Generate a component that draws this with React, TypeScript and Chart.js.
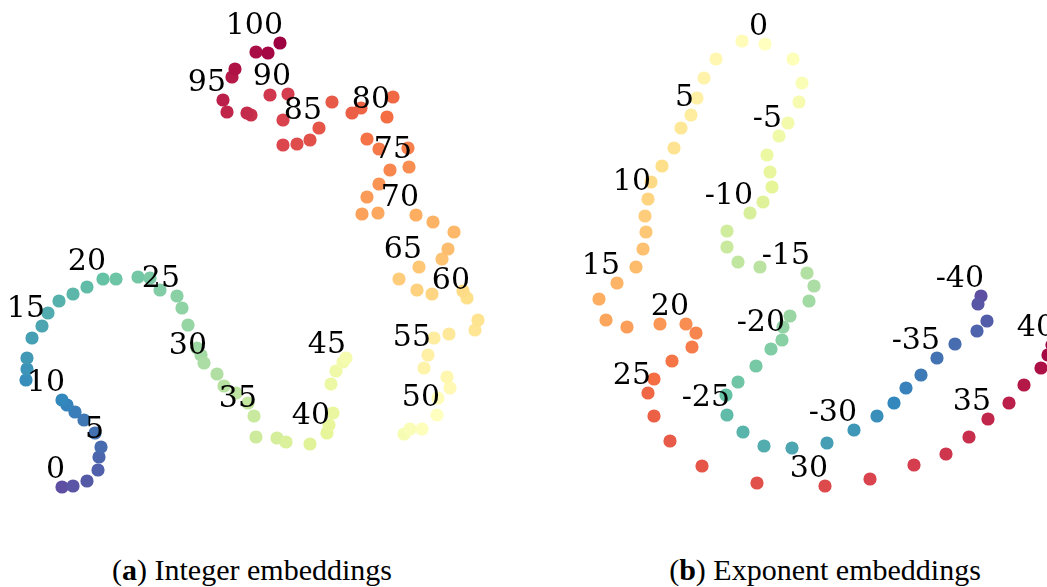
import React, { useEffect, useRef } from "react";
import { Chart, registerables } from "chart.js";

Chart.register(...registerables);

// ---------- Data: (a) Integer embeddings, values 0..100 ----------
const intValues: number[] = Array.from({ length: 101 }, (_, i) => i);
const intX: number[] = [
  -20.0, -18.9, -17.5, -16.4, -16.3, -16.1, -16.7, -17.8, -18.7, -19.5,
  -20.0, -23.6, -23.5, -23.5, -23.0, -22.0, -21.4, -20.3, -18.9, -17.5,
  -15.9, -14.6, -12.4, -11.2, -10.2, -8.5, -8.0, -7.4, -6.5, -6.1,
  -5.8, -4.5, -3.8, -2.6, -1.4, -0.8, -0.6, 1.5, 2.4, 4.8,
  6.5, 6.7, 7.1, 6.9, 7.4, 8.1, 8.4, 14.2, 14.8, 16.0,
  17.5, 17.6, 18.8, 18.5, 16.2, 16.6, 17.2, 18.7, 21.3, 21.6,
  20.5, 20.1, 17.0, 15.5, 13.7, 15.7, 18.0, 18.6, 19.2, 17.1,
  15.4, 11.6, 10.0, 10.5, 11.7, 14.7, 12.8, 14.6, 11.7, 10.5,
  12.5, 13.1, 9.9, 9.0, 7.0, 5.7, 4.8, 3.5, 2.1, 2.1,
  2.6, 0.8, -1.1, -1.5, -3.5, -3.9, -3.0, -2.7, -0.6, 0.6,
  1.8,
];
const intY: number[] = [
  -21.7, -21.6, -21.1, -20.0, -18.7, -17.7, -16.3, -15.0, -14.2, -13.5,
  -13.0, -11.0, -9.9, -8.8, -6.8, -5.6, -4.3, -3.1, -2.4, -1.7,
  -0.9, -0.9, -0.7, -0.8, -2.0, -2.6, -3.8, -5.5, -7.8, -8.5,
  -9.3, -10.4, -11.6, -12.3, -13.3, -14.6, -16.7, -16.8, -17.2, -17.4,
  -16.3, -15.5, -14.3, -11.4, -10.1, -9.2, -8.8, -16.4, -15.9, -15.9,
  -14.5, -12.8, -11.8, -10.7, -9.8, -8.5, -6.8, -6.4, -6.0, -5.0,
  -2.8, -2.1, -2.4, -2.0, -0.9, 0.3, 1.1, 2.1, 3.8, 4.8,
  5.5, 5.7, 5.6, 7.3, 8.6, 10.3, 10.0, 12.2, 12.1, 13.1,
  15.3, 17.3, 16.2, 15.7, 16.8, 14.2, 13.0, 12.6, 12.5, 15.0,
  17.6, 17.5, 15.5, 15.7, 15.8, 17.0, 19.3, 20.1, 21.8, 21.7,
  22.7,
];

// ---------- Data: (b) Exponent embeddings, values -40..40 ----------
const expValues: number[] = Array.from({ length: 81 }, (_, i) => i - 40);
const expX: number[] = [
  19.6, 19.3, 20.2, 19.2, 17.0, 15.2, 13.6, 12.1, 10.9, 9.2,
  6.9, 4.2, 0.7, -2.1, -4.2, -5.8, -5.9, -4.7, -2.9, -1.4,
  -0.3, -0.2, 0.5, 2.4, 2.9, 2.2, -2.5, -4.7, -5.8, -5.8,
  -3.5, -2.2, -1.3, -1.5, -1.8, -0.6, 0.3, 1.4, 1.7, 0.8,
  -2.0,
  -4.3, -6.9, -8.1, -8.8, -9.4, -10.4, -11.1, -12.3, -13.4, -13.7,
  -14.0, -13.9, -14.2, -14.9, -16.8, -18.6, -17.9, -15.8, -12.5, -9.9,
  -8.9, -9.3, -11.3, -13.1, -13.7, -13.1, -11.5, -8.3, -2.8, 4.0,
  8.5, 12.9, 16.1, 18.4, 20.3, 22.4, 23.9, 25.6, 26.3, 26.7,
];
const expY: number[] = [
  -2.6, -3.4, -5.1, -6.1, -7.4, -8.8, -10.5, -11.8, -13.3, -14.6,
  -16.0, -17.3, -17.8, -17.6, -16.2, -14.5, -12.5, -11.2, -9.6, -7.9,
  -7.0, -5.7, -4.6, -3.1, -1.6, -0.3, 0.3, 0.8, 2.3, 3.9,
  5.7, 6.8, 8.3, 9.8, 11.5, 13.4, 14.7, 16.8, 18.7, 21.1,
  22.6,
  22.9, 21.1, 19.2, 17.2, 15.5, 14.2, 12.2, 10.4, 8.8, 7.1,
  5.4, 3.8, 2.1, 0.3, -1.3, -2.9, -5.0, -5.7, -5.4, -5.4,
  -6.3, -7.7, -9.1, -10.9, -12.3, -14.6, -17.1, -19.6, -21.3, -21.6,
  -20.9, -19.5, -18.4, -16.7, -14.9, -13.3, -11.5, -9.8, -8.5, -7.5,
];

const captionA = "Integer embeddings";
const captionB = "Exponent embeddings";

// ---------- Spectral colormap ----------
const SPECTRAL = [
  "#9e0142", "#d53e4f", "#f46d43", "#fdae61", "#fee08b", "#ffffbf",
  "#e6f598", "#abdda4", "#66c2a5", "#3288bd", "#5e4fa2",
];
function hexToRgb(h: string): number[] {
  return [parseInt(h.slice(1, 3), 16), parseInt(h.slice(3, 5), 16), parseInt(h.slice(5, 7), 16)];
}
function spectral(t: number): string {
  const tt = Math.max(0, Math.min(1, t));
  const p = tt * (SPECTRAL.length - 1);
  const i = Math.min(SPECTRAL.length - 2, Math.floor(p));
  const f = p - i;
  const a = hexToRgb(SPECTRAL[i]);
  const b = hexToRgb(SPECTRAL[i + 1]);
  const c = a.map((v, k) => Math.round(v + (b[k] - v) * f));
  return `rgb(${c[0]},${c[1]},${c[2]})`;
}

const labelPlugin = {
  id: "pointLabels",
  afterDatasetsDraw(chart: any, _args: any, opts: any) {
    const meta = chart.getDatasetMeta(0);
    const ctx = chart.ctx;
    ctx.save();
    ctx.font = '30px "DejaVu Serif"';
    ctx.fillStyle = "#000";
    ctx.textAlign = "right";
    ctx.textBaseline = "alphabetic";
    (opts.values as number[]).forEach((v, i) => {
      if (v % 5 === 0) {
        const p = meta.data[i];
        ctx.fillText(String(v), p.x + 3, p.y - 9);
      }
    });
    ctx.restore();
  },
};

type PanelProps = {
  xs: number[];
  ys: number[];
  vals: number[];
  colorOf: (v: number) => string;
  xMin: number;
  xMax: number;
  yMin: number;
  yMax: number;
  left: number;
  width: number;
  height: number;
};

function Panel(props: PanelProps) {
  const ref = useRef<HTMLCanvasElement | null>(null);
  useEffect(() => {
    if (!ref.current) return;
    const data = props.xs.map((x, i) => ({ x, y: props.ys[i] }));
    const colors = props.vals.map((v) => props.colorOf(v));
    const chart = new Chart(ref.current, {
      type: "scatter",
      data: {
        datasets: [
          {
            data,
            pointBackgroundColor: colors,
            pointBorderWidth: 0,
            pointBorderColor: "rgba(0,0,0,0)",
            pointRadius: 6.6,
            pointHoverRadius: 6.6,
            clip: false as any,
          },
        ],
      },
      options: {
        responsive: false,
        maintainAspectRatio: false,
        animation: false,
        events: [],
        layout: { padding: 0, autoPadding: false } as any,
        scales: {
          x: { type: "linear", display: false, min: props.xMin, max: props.xMax },
          y: { type: "linear", display: false, min: props.yMin, max: props.yMax },
        },
        plugins: {
          legend: { display: false },
          tooltip: { enabled: false },
          pointLabels: { values: props.vals },
        } as any,
      },
      plugins: [labelPlugin as any],
    });
    return () => chart.destroy();
  }, []);
  return (
    <canvas
      ref={ref}
      width={props.width}
      height={props.height}
      style={{ position: "absolute", left: props.left, top: 0, width: props.width, height: props.height }}
    />
  );
}

const captionStyle: React.CSSProperties = {
  position: "absolute",
  top: 555,
  fontFamily: '"Liberation Serif", serif',
  fontSize: 30,
  lineHeight: "30px",
  whiteSpace: "nowrap",
  color: "#000",
  transform: "translateX(-50%)",
};

export default function App() {
  return (
    <div
      style={{
        position: "fixed",
        left: 0,
        top: 0,
        width: 1047,
        height: 587,
        background: "#fff",
        overflow: "hidden",
      }}
    >
      <Panel
        xs={intX}
        ys={intY}
        vals={intValues}
        colorOf={(v) => spectral(1 - v / 100)}
        xMin={-26.2}
        xMax={26.1}
        yMin={-27}
        yMax={27}
        left={0}
        width={523}
        height={540}
      />
      <Panel
        xs={expX}
        ys={expY}
        vals={expValues}
        colorOf={(v) => spectral((40 - v) / 80)}
        xMin={-26.2}
        xMax={26.2}
        yMin={-27}
        yMax={27}
        left={523}
        width={524}
        height={540}
      />
      <div style={{ ...captionStyle, left: 252 }}>
        (<b>a</b>) {captionA}
      </div>
      <div style={{ ...captionStyle, left: 825 }}>
        (<b>b</b>) {captionB}
      </div>
    </div>
  );
}
